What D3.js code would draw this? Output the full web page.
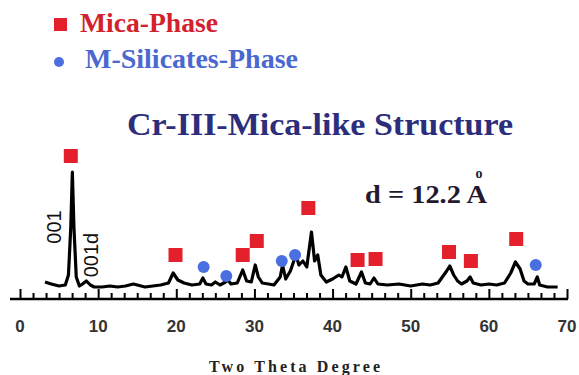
<!DOCTYPE html>
<html>
<head>
<meta charset="utf-8">
<script src="https://cdn.jsdelivr.net/npm/d3@7"></script>
<style>
  body { margin: 0; background: #fff; }
  svg { display: block; }
</style>
</head>
<body>
<svg id="chart"></svg>
<script>
// XRD pattern: two theta (deg) and intensity (a.u.)
const twoTheta = [3.2, 4, 5, 5.8, 6.2, 6.5, 6.7, 6.9, 7.2, 7.6, 8.0, 8.5, 9.0, 9.5, 10.5, 11.5, 12.5, 13.5,
   14.5, 15, 16, 17, 18, 19, 19.6, 20.2, 21, 22, 23, 23.4, 23.8, 24.5, 25, 25.6, 26.3, 26.6, 27, 27.8,
   28.5, 29, 29.6, 30.1, 30.5, 31, 31.8, 32.5, 33.3, 33.6, 34, 34.6, 35.3, 35.7, 36.2, 36.7, 37.3, 37.7,
   38.1, 38.5, 39.2, 40, 40.8, 41.2, 41.7, 42.2, 43, 43.7, 44.2, 44.8, 45.3, 45.8, 47, 48.5, 50, 51.5,
   52.5, 53.5, 54.6, 55, 55.5, 56, 56.5, 57.2, 57.6, 58, 59, 60, 61, 62, 62.8, 63.4, 64, 64.5, 65, 65.8,
   66.2, 66.5, 67.5, 68.8];
const intensity = [5, 3, 1, 2, 12, 60, 115, 60, 10, 1, 3, 6, 2, 0, 0, 1, 0, 1,
   3, 2, 0, 1, 2, 4, 14, 7, 4, 2, 3, 9, 3, 2, 5, 2, 5, 7, 3, 4,
   17, 6, 5, 22, 10, 4, 3, 2, 10, 22, 8, 16, 32, 22, 26, 20, 55, 26,
   32, 12, 5, 8, 12, 10, 20, 6, 3, 15, 4, 3, 9, 3, 2, 3, 1, 3,
   2, 4, 16, 21, 12, 6, 3, 6, 10, 4, 2, 3, 2, 4, 14, 25, 18, 6, 3, 3,
   10, 2, 0, 0];

// phase markers: position and height they sit at
const micaTheta = [6.5, 19.9, 28.5, 30.3, 36.9, 43.2, 45.5, 54.9, 57.7, 63.5];
const micaLevel = [131, 32, 32, 46, 79, 27, 28, 35, 26, 48];
const silicateTheta = [23.5, 26.4, 33.5, 35.2, 66.0];
const silicateLevel = [20, 11, 26, 32, 22];

const xTickValues = [0, 10, 20, 30, 40, 50, 60, 70];
const minorStep = 10 / 6;

const serif = 'Liberation Serif, Times New Roman, serif';
const sans = 'Liberation Sans, Arial, sans-serif';

class XrdChart {
   constructor(_config, _data) {
      this.config = {
         parentElement: _config.parentElement,
         containerWidth: _config.containerWidth || 579,
         containerHeight: _config.containerHeight || 375,
      };
      this.data = _data;
      this.initVis();
   }

   initVis() {
      this.svg = d3
         .select(this.config.parentElement)
         .attr('width', this.config.containerWidth)
         .attr('height', this.config.containerHeight);

      this.xScale = d3.scaleLinear().domain([0, 70]).range([20, 567]);
      this.yScale = d3.scaleLinear().domain([0, 115]).range([287, 172]);

      this.axisY = 299;

      // legend
      const legend = this.svg.append('g').attr('class', 'legend');
      legend.append('rect')
         .attr('x', 54).attr('y', 18).attr('width', 13).attr('height', 13)
         .attr('fill', '#e3202b');
      legend.append('text')
         .attr('x', 80).attr('y', 32)
         .attr('textLength', 138).attr('lengthAdjust', 'spacingAndGlyphs')
         .attr('font-family', serif)
         .attr('font-weight', 'bold').attr('font-size', 28)
         .attr('fill', '#d3222e')
         .text('Mica-Phase');
      legend.append('circle')
         .attr('cx', 59).attr('cy', 62).attr('r', 5)
         .attr('fill', '#4a6fe0');
      legend.append('text')
         .attr('x', 85).attr('y', 68)
         .attr('textLength', 213).attr('lengthAdjust', 'spacingAndGlyphs')
         .attr('font-family', serif)
         .attr('font-weight', 'bold').attr('font-size', 28)
         .attr('fill', '#4a68d0')
         .text('M-Silicates-Phase');

      // title
      this.svg.append('text')
         .attr('x', 127).attr('y', 135)
         .attr('textLength', 386).attr('lengthAdjust', 'spacingAndGlyphs')
         .attr('font-family', serif)
         .attr('font-weight', 'bold').attr('font-size', 31)
         .attr('fill', '#2c2e7c')
         .text('Cr-III-Mica-like Structure');

      // d-spacing note, ring drawn above the A
      const dNote = this.svg.append('text')
         .attr('x', 365).attr('y', 203)
         .attr('textLength', 122).attr('lengthAdjust', 'spacingAndGlyphs')
         .attr('font-family', serif)
         .attr('font-weight', 'bold').attr('font-size', 25)
         .attr('fill', '#24182e');
      dNote.append('tspan').text('d = 12.2 ');
      dNote.append('tspan').text('A');
      this.svg.append('text')
         .attr('x', 479).attr('y', 178)
         .attr('text-anchor', 'middle')
         .attr('font-family', serif)
         .attr('font-weight', 'bold').attr('font-size', 14)
         .attr('fill', '#24182e')
         .text('o');

      // peak labels
      this.svg.append('text')
         .attr('transform', 'translate(61, 227) rotate(-90)')
         .attr('text-anchor', 'middle')
         .attr('font-family', sans)
         .attr('font-size', 20)
         .attr('fill', '#111')
         .text('001');
      this.svg.append('text')
         .attr('transform', 'translate(98, 255) rotate(-90)')
         .attr('text-anchor', 'middle')
         .attr('font-family', sans)
         .attr('font-size', 20)
         .attr('fill', '#111')
         .text('001d');

      this.chart = this.svg.append('g');

      // x axis: ticks point up from the line
      this.xAxis = d3.axisTop(this.xScale)
         .tickValues(xTickValues)
         .tickSize(10)
         .tickFormat('');
      this.xAxisGroup = this.svg.append('g')
         .attr('class', 'axis x-axis')
         .attr('transform', `translate(0, ${this.axisY})`)
         .call(this.xAxis);

      this.xAxisGroup.select('.domain').remove();
      this.xAxisGroup.selectAll('line').attr('stroke', '#000').attr('stroke-width', 2);

      this.minorAxis = d3.axisTop(this.xScale)
         .tickValues(d3.range(0, 70.001, minorStep).filter((v) => Math.abs(v / 10 - Math.round(v / 10)) > 0.01))
         .tickSize(6)
         .tickFormat('');
      this.minorGroup = this.svg.append('g')
         .attr('transform', `translate(0, ${this.axisY})`)
         .call(this.minorAxis);
      this.minorGroup.select('.domain').remove();
      this.minorGroup.selectAll('line').attr('stroke', '#000').attr('stroke-width', 2);

      this.svg.append('line')
         .attr('x1', 10).attr('x2', this.xScale(70) + 1)
         .attr('y1', this.axisY).attr('y2', this.axisY)
         .attr('stroke', '#000').attr('stroke-width', 2.5);

      this.svg.append('g')
         .selectAll('text')
         .data(xTickValues)
         .join('text')
         .attr('x', (d) => this.xScale(d))
         .attr('y', this.axisY + 33)
         .attr('text-anchor', 'middle')
         .attr('font-family', sans)
         .attr('font-weight', 'bold')
         .attr('font-size', 17)
         .attr('fill', '#333')
         .text((d) => d);

      this.svg.append('text')
         .attr('x', 209).attr('y', 372)
         .attr('textLength', 171)
         .attr('font-family', serif)
         .attr('font-weight', 'bold').attr('font-size', 16)
         .attr('fill', '#222')
         .text('Two Theta Degree');

      this.updateVis();
   }

   updateVis() {
      const line = d3.line()
         .x((d) => this.xScale(d.theta))
         .y((d) => this.yScale(d.value));

      this.chart.append('path')
         .datum(this.data.pattern)
         .attr('fill', 'none')
         .attr('stroke', '#000')
         .attr('stroke-width', 3.2)
         .attr('stroke-linejoin', 'round')
         .attr('d', line);

      this.chart.selectAll('rect.mica')
         .data(this.data.mica)
         .join('rect')
         .attr('class', 'mica')
         .attr('x', (d) => this.xScale(d.theta) - 7)
         .attr('y', (d) => this.yScale(d.level) - 7)
         .attr('width', 14)
         .attr('height', 14)
         .attr('fill', '#e3202b');

      this.chart.selectAll('circle.silicate')
         .data(this.data.silicate)
         .join('circle')
         .attr('class', 'silicate')
         .attr('cx', (d) => this.xScale(d.theta))
         .attr('cy', (d) => this.yScale(d.level))
         .attr('r', 6)
         .attr('fill', '#4a6fe0');
   }
}

const data = {
   pattern: twoTheta.map((t, i) => ({ theta: t, value: intensity[i] })),
   mica: micaTheta.map((t, i) => ({ theta: t, level: micaLevel[i] })),
   silicate: silicateTheta.map((t, i) => ({ theta: t, level: silicateLevel[i] })),
};

new XrdChart({ parentElement: '#chart' }, data);
</script>
</body>
</html>
